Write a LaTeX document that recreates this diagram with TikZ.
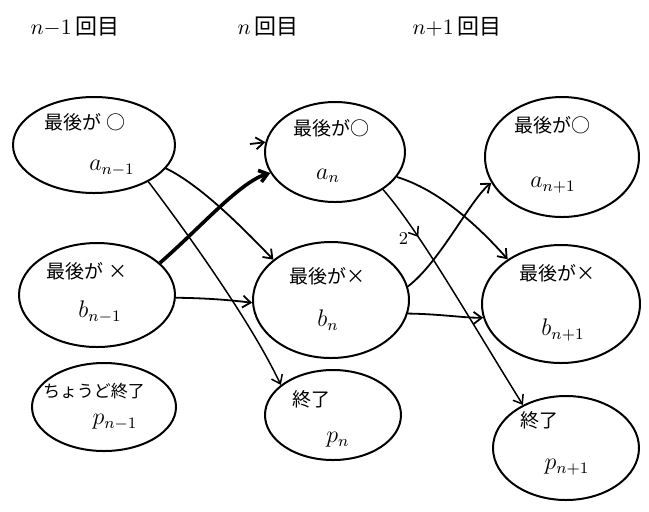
\documentclass[tikz,border=0pt]{standalone}
\usepackage{fontspec}
\newfontfamily\cjk{Noto Sans CJK JP}
\usetikzlibrary{shapes.geometric,arrows.meta,decorations.markings}
\begin{document}
\begin{tikzpicture}[x=0.5pt,y=-0.5pt,
  st/.style={ellipse,draw,line width=1pt,inner sep=0pt},
  lbl/.style={font=\cjk\fontsize{9.5}{11}\selectfont,inner sep=1pt},
  var/.style={font=\fontsize{11.5}{13}\selectfont,inner sep=1pt},
  ttl/.style={font=\fontsize{11}{13}\selectfont,inner sep=1pt},
  tip/.style={-{Straight Barb[length=4pt,width=6pt]}},
  conn/.style={tip,line width=0.9pt},
  thin/.style={tip,line width=0.75pt},
  heavy/.style={tip,line width=1.8pt},
  midtip/.style={postaction={decorate},decoration={markings,
     mark=at position #1 with {\arrow{Straight Barb[length=4pt,width=6pt]}}}}]
\useasboundingbox (0,0) rectangle (649,511);

% titles
\node[ttl] (T1) at (75,27) {$n{-}1$\,{\cjk 回目}};
\node[ttl] (T2) at (268,27) {$n$\,{\cjk 回目}};
\node[ttl] (T3) at (457,27) {$n{+}1$\,{\cjk 回目}};

% states
\node[st,minimum width=81pt,minimum height=48pt] (A1) at (94,145) {};
\node[st,minimum width=78pt,minimum height=52pt] (B1) at (97,295) {};
\node[st,minimum width=72pt,minimum height=44pt] (P1) at (104,407) {};
\node[st,minimum width=70pt,minimum height=50pt] (A2) at (335,152) {};
\node[st,minimum width=78pt,minimum height=58pt] (B2) at (331,300) {};
\node[st,minimum width=68pt,minimum height=45pt] (P2) at (333,415) {};
\node[st,minimum width=77pt,minimum height=60pt] (A3) at (562,157) {};
\node[st,minimum width=79pt,minimum height=59pt] (B3) at (561,304) {};
\node[st,minimum width=73pt,minimum height=52pt] (P3) at (566,448) {};

% labels
\node[lbl] (A1t) at (85,122) {最後が\ ○};
\node[var] (A1v) at (112,168) {$a_{n-1}$};
\node[lbl] (B1t) at (87,271) {最後が\ ×};
\node[var] (B1v) at (100,312) {$b_{n-1}$};
\node[lbl,font=\cjk\fontsize{8.5}{10}\selectfont] (P1t) at (94,391) {ちょうど終了};
\node[var] (P1v) at (115,422) {$p_{n-1}$};
\node[lbl] (A2t) at (331,128) {最後が○};
\node[var] (A2v) at (328,176) {$a_n$};
\node[lbl] (B2t) at (327,276) {最後が×};
\node[var] (B2v) at (328,320) {$b_n$};
\node[lbl] (P2t) at (311,399) {終了};
\node[var] (P2v) at (338,440) {$p_n$};
\node[lbl] (A3t) at (552,125) {最後が○};
\node[var] (A3v) at (553,185) {$a_{n+1}$};
\node[lbl] (B3t) at (557,273) {最後が×};
\node[var] (B3v) at (563,330) {$b_{n+1}$};
\node[lbl] (P3t) at (539,420) {終了};
\node[var] (P3v) at (567,467) {$p_{n+1}$};

% connectors n-1 -> n
\draw[conn] (A1.-18) .. controls (200,185) and (240,225) .. (B2.145);
\draw[thin] (A1.-34) .. controls (185,230) and (250,320) .. (P2.150);
\draw[heavy] (B1.27) .. controls (200,228) and (240,182) .. (A2.198);
\draw[conn] (B1.-2) .. controls (205,298) and (230,300) .. (B2.182);
\coordinate (s0) at (250,144);
\draw[conn] (s0) -- (A2.172);

% connectors n -> n+1
\draw[conn] (A2.-22) .. controls (440,190) and (480,228) .. (B3.140);
\draw[thin,midtip=0.23] (A2.-38) .. controls (420,232) and (470,320) .. (P3.135)
  node[pos=0.3,left=2pt,font=\fontsize{9}{10}\selectfont] (L2) {2};
\draw[conn] (B2.10) .. controls (440,262) and (470,200) .. (A3.200);
\draw[conn] (B2.-10) .. controls (440,314) and (465,318) .. (B3.190);
\end{tikzpicture}
\end{document}
